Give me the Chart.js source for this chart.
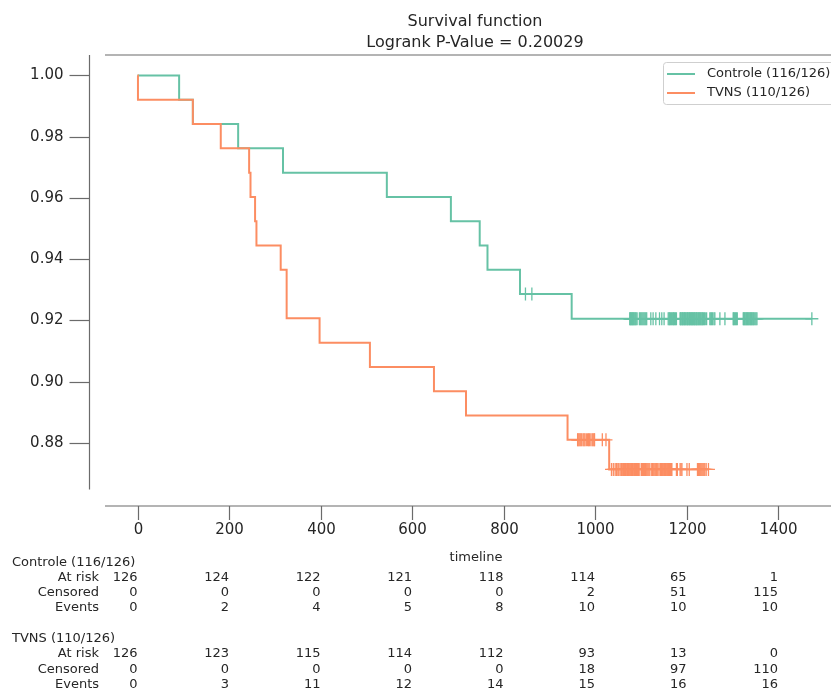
<!DOCTYPE html>
<html><head><meta charset="utf-8">
<script src="https://cdn.jsdelivr.net/npm/chart.js@4.4.1/dist/chart.umd.min.js"></script>
<style>html,body{margin:0;padding:0;background:#fff;overflow:hidden}canvas{display:block}</style>
</head><body>
<canvas id="c" width="831" height="693"></canvas>
<script>
// ---- data ----
const titleLines = ['Survival function', 'Logrank P-Value = 0.20029'];
const seriesNames = ['Controle (116/126)', 'TVNS (110/126)'];
const xTicks = [0, 200, 400, 600, 800, 1000, 1200, 1400];
const yTicks = [0.88, 0.90, 0.92, 0.94, 0.96, 0.98, 1.00];
const xLabel = 'timeline';

const controleTimes = [0, 91, 121, 220, 318, 545, 685, 748, 765, 836, 949, 1474];
const controleSurv = [1, 0.99206, 0.98413, 0.97619, 0.96825, 0.96032, 0.95238, 0.94444, 0.93651, 0.92857, 0.92050, 0.92050];
const controleCensor = [848, 862,
  1076,1077,1078,1080,1081,1082,1084,1085,1087,1088,1090,1092,
  1097,1099,1101,1103,1105,1107,1109,1111,1113,
  1122,1127,1133,1141,1146,1151,
  1160,1162,1163,1165,1167,1169,1171,1172,1174,1176,1178,
  1186,1187,1188,1190,1191,1192,1194,1195,1196,1198,1199,
  1201,1202,1203,1205,1206,1207,1209,1210,1211,1213,1214,1215,1217,1218,1219,1221,1222,1223,1225,1226,1228,1229,1231,1232,1234,1235,1237,1239,1241,1244,
  1251,1253,1255,1257,1260,1262,
  1273,1284,
  1302,1303,1305,1307,1309,1311,
  1324,1325,1327,1328,1330,1331,1333,1334,1336,1337,1339,1340,1342,1343,1345,1346,1348,1350,1352,1354,
  1474];

const tvnsTimes = [0, 1, 121, 182, 244, 247, 257, 260, 313, 326, 398, 508, 648, 718, 940, 1031, 1248];
const tvnsSurv = [1, 0.99206, 0.98413, 0.97619, 0.96825, 0.96032, 0.95238, 0.94444, 0.93651, 0.92063, 0.91270, 0.90476, 0.89683, 0.88889, 0.88095, 0.87127, 0.87127];
const tvnsCensor = [962,963,965,967,969,971,974,976,978,981,984,986,988,991,994,996,998,999,
  1016,1024,
  1036,1040,1044,
  1047,1050,1052,1055,
  1058,1059,1061,1062,1064,1065,1067,1068,1070,1071,1073,1074,1076,1077,1079,1080,1082,1083,1085,1086,1088,1089,1091,1093,1095,1098,
  1102,1104,1106,1108,1110,1112,1114,1116,1118,1120,
  1124,1126,1127,1129,1131,1133,1134,1136,1138,
  1142,1143,1145,1146,1148,1149,1151,1152,1154,1155,1157,1158,1160,1161,1163,1164,1165,1166,1167,1168,
  1178,1180,
  1186,1188,1190,
  1201,1206,1224,1226,1228,1230,1232,1234,1236,1238,1240,1243,1248];

const tableRowNames = ['At risk', 'Censored', 'Events'];
const controleAtRisk = [126, 124, 122, 121, 118, 114, 65, 1];
const controleCensored = [0, 0, 0, 0, 0, 2, 51, 115];
const controleEvents = [0, 2, 4, 5, 8, 10, 10, 10];
const tvnsAtRisk = [126, 123, 115, 114, 112, 93, 13, 0];
const tvnsCensored = [0, 0, 0, 0, 0, 18, 97, 110];
const tvnsEvents = [0, 3, 11, 12, 14, 15, 16, 16];

// ---- styling ----
const GREEN = '#66c2a5';
const ORANGE = '#fc8d62';
const TEXT = '#262626';
const SPINE = '#6b6b6b';
const FONT = '"DejaVu Sans", "Liberation Sans", sans-serif';

function levelAt(times, surv, t) {
  let v = surv[0];
  for (let i = 0; i < times.length; i++) { if (times[i] <= t) v = surv[i]; else break; }
  return v;
}
const controleLine = controleTimes.map((t, i) => ({x: t, y: controleSurv[i]}));
const tvnsLine = tvnsTimes.map((t, i) => ({x: t, y: tvnsSurv[i]}));
const controlePts = controleCensor.map(t => ({x: t, y: levelAt(controleTimes, controleSurv, t)}));
const tvnsPts = tvnsCensor.map(t => ({x: t, y: levelAt(tvnsTimes, tvnsSurv, t)}));

const decor = {
  id: 'decor',
  beforeDraw(chart) {
    const c = chart.ctx;
    c.save(); c.fillStyle = '#fff'; c.fillRect(0, 0, chart.width, chart.height); c.restore();
  },
  beforeDatasetsDraw(chart) {
    const c = chart.ctx, xs = chart.scales.x, ys = chart.scales.y, a = chart.chartArea;
    c.save();
    c.strokeStyle = SPINE; c.lineWidth = 1.2;
    // top spine
    c.beginPath(); c.moveTo(a.left, a.top); c.lineTo(a.right + 20, a.top); c.stroke();
    // left spine (offset)
    const lx = 89.5;
    c.beginPath(); c.moveTo(lx, a.top); c.lineTo(lx, a.bottom); c.stroke();
    // bottom spine (offset)
    const by = 506;
    c.beginPath(); c.moveTo(a.left, by); c.lineTo(a.right + 20, by); c.stroke();
    c.fillStyle = TEXT;
    c.font = '15px ' + FONT;
    c.textAlign = 'right'; c.textBaseline = 'middle';
    yTicks.forEach(v => {
      const y = Math.round(ys.getPixelForValue(v)) + 0.5;
      c.beginPath(); c.moveTo(lx - 20, y); c.lineTo(lx, y); c.stroke();
      c.fillText(v.toFixed(2), lx - 26, y);
    });
    c.textAlign = 'center';
    xTicks.forEach(v => {
      const x = Math.round(xs.getPixelForValue(v)) + 0.5;
      c.beginPath(); c.moveTo(x, by); c.lineTo(x, by + 14); c.stroke();
      c.fillText(String(v), x, 530);
    });
    c.font = '13px ' + FONT;
    c.fillText(xLabel, 476, 558);
    c.restore();
  },
  afterDraw(chart) {
    const c = chart.ctx, xs = chart.scales.x;
    c.save();
    c.fillStyle = TEXT;
    // title
    c.font = '16px ' + FONT; c.textAlign = 'center'; c.textBaseline = 'middle';
    c.fillText(titleLines[0], 475, 22);
    c.fillText(titleLines[1], 475, 43);
    // legend
    c.fillStyle = 'rgba(255,255,255,0.85)'; c.strokeStyle = '#cfcfcf'; c.lineWidth = 1;
    c.beginPath();
    if (c.roundRect) c.roundRect(663.5, 62.5, 200, 42, 3); else c.rect(663.5, 62.5, 200, 42);
    c.fill(); c.stroke();
    const ly = [74, 93], lc = [GREEN, ORANGE];
    c.font = '13px ' + FONT; c.textAlign = 'left'; c.fillStyle = TEXT;
    for (let i = 0; i < 2; i++) {
      c.strokeStyle = lc[i]; c.lineWidth = 2;
      c.beginPath(); c.moveTo(667, ly[i]); c.lineTo(695, ly[i]); c.stroke();
      c.fillText(seriesNames[i], 707, ly[i]);
    }
    // at-risk table
    const groups = [
      {name: seriesNames[0], rows: [controleAtRisk, controleCensored, controleEvents], y: [562.5, 577.5, 593, 608]},
      {name: seriesNames[1], rows: [tvnsAtRisk, tvnsCensored, tvnsEvents], y: [638.5, 654, 669.5, 685]}
    ];
    c.font = '13px ' + FONT; c.fillStyle = TEXT;
    groups.forEach(g => {
      c.textAlign = 'left';
      c.fillText(g.name, 12, g.y[0]);
      g.rows.forEach((vals, r) => {
        c.textAlign = 'right';
        c.fillText(tableRowNames[r], 99, g.y[r + 1]);
        vals.forEach((v, k) => {
          c.fillText(String(v), xs.getPixelForValue(xTicks[k]), g.y[r + 1]);
        });
      });
    });
    c.restore();
  }
};

// pixel mapping: x0=137.5, 0.4575 px/unit; y 1.00 at 75.5, 3060 px/unit
const xMin = (105 - 137.5) / 0.4575;
const xMax = (831 - 137.5) / 0.4575;
const yMax = 1 + (75.5 - 55) / 3060;
const yMin = 1 - (489.5 - 75.5) / 3060;

new Chart(document.getElementById('c'), {
  type: 'line',
  data: {
    datasets: [
      {label: seriesNames[0], data: controleLine, borderColor: GREEN, borderWidth: 2, stepped: 'before', pointRadius: 0, fill: false, order: 3},
      {label: seriesNames[0] + ' censored', data: controlePts, showLine: false, pointStyle: 'cross', pointRadius: 6.5, pointBorderColor: GREEN, borderColor: GREEN, pointBorderWidth: 1.3, order: 2},
      {label: seriesNames[1], data: tvnsLine, borderColor: ORANGE, borderWidth: 2, stepped: 'before', pointRadius: 0, fill: false, order: 1},
      {label: seriesNames[1] + ' censored', data: tvnsPts, showLine: false, pointStyle: 'cross', pointRadius: 6.5, pointBorderColor: ORANGE, borderColor: ORANGE, pointBorderWidth: 1.3, order: 0}
    ]
  },
  options: {
    responsive: false, animation: false, devicePixelRatio: 1, events: [],
    layout: {autoPadding: false, padding: {left: 105, top: 55, right: 0, bottom: 693 - 489.5}},
    scales: {
      x: {type: 'linear', min: xMin, max: xMax, display: false},
      y: {type: 'linear', min: yMin, max: yMax, display: false}
    },
    plugins: {legend: {display: false}, title: {display: false}, tooltip: {enabled: false}}
  },
  plugins: [decor]
});
</script>
</body></html>
